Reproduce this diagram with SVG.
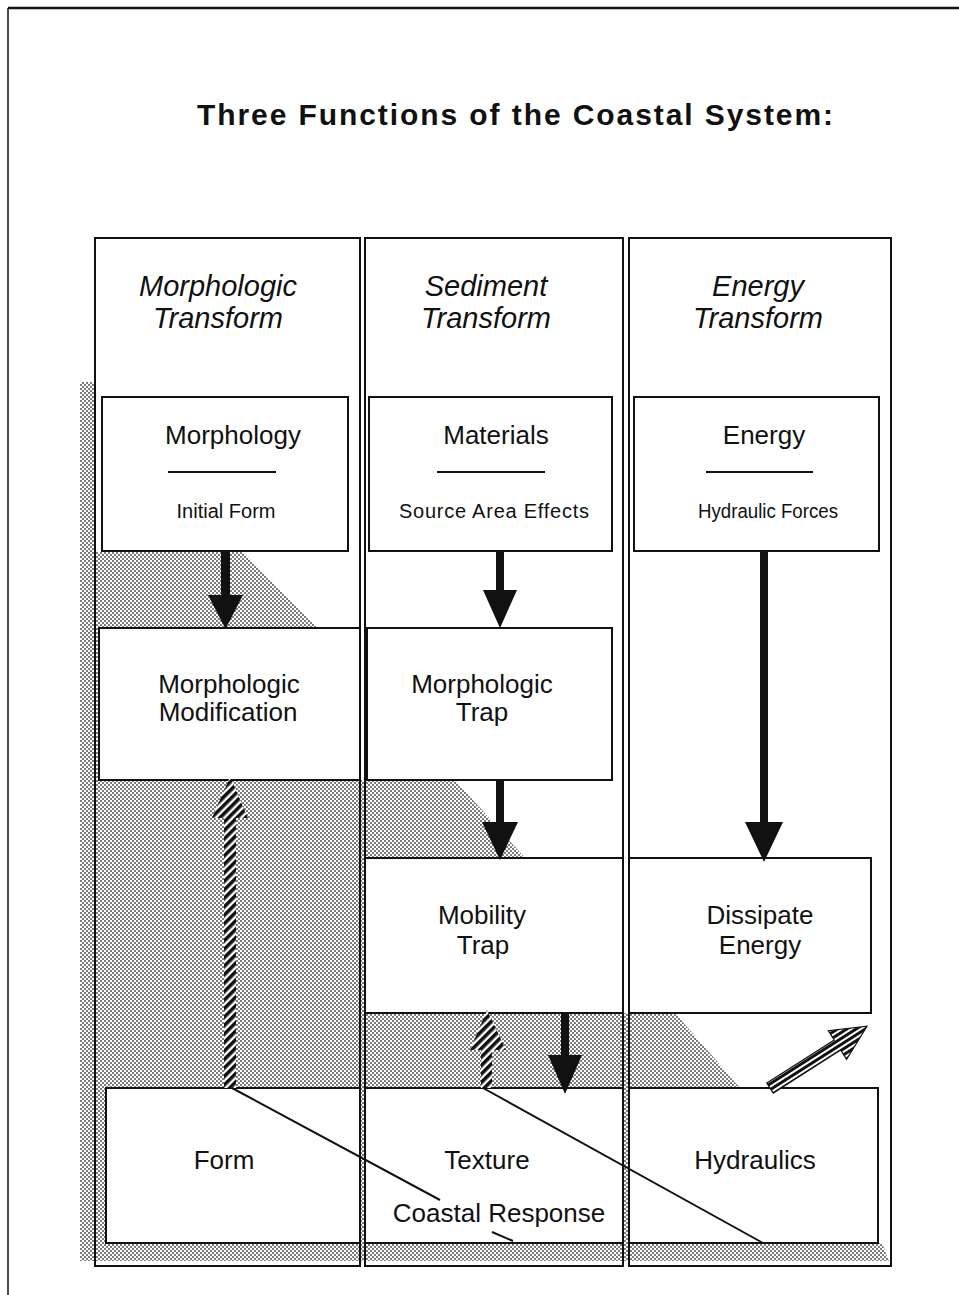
<svg xmlns="http://www.w3.org/2000/svg" width="959" height="1295" viewBox="0 0 959 1295">
  <defs>
    <!-- dotted screen used for the shadow -->
    <pattern id="stipple" width="4" height="4" patternUnits="userSpaceOnUse">
      <rect width="4" height="4" fill="#fff"/>
      <circle cx="1" cy="1" r="0.95" fill="#444"/>
      <circle cx="3" cy="3" r="0.95" fill="#444"/>
    </pattern>
    <!-- diagonal stripes for the feedback arrows -->
    <pattern id="hatch" width="6" height="6" patternUnits="userSpaceOnUse" patternTransform="rotate(45)">
      <rect width="6" height="6" fill="#fff"/>
      <rect width="3.6" height="6" fill="#111"/>
    </pattern>
    <!-- stripes running along the axis of an arrow -->
    <pattern id="hatchAxial" width="6" height="5" patternUnits="userSpaceOnUse">
      <rect width="6" height="5" fill="#fff"/>
      <rect width="6" height="3" fill="#111"/>
    </pattern>
    <style>
      text { font-family: "Liberation Sans", Arial, Helvetica, sans-serif; fill: #111; text-anchor: middle; }
      .title { font-size: 30px; font-weight: bold; }
      .hdr { font-size: 29px; font-style: italic; }
      .lbl { font-size: 26px; }
      .sub { font-size: 20px; }
      .col { fill: none; stroke: #111; stroke-width: 2; }
      .box { fill: #fff; stroke: #111; stroke-width: 2; }
      .rule { stroke: #111; stroke-width: 2; }
      .solid { fill: #111; stroke: none; }
      .line { stroke: #111; stroke-width: 2; fill: none; }
    </style>
  </defs>

  <rect width="959" height="1295" fill="#fff"/>

  <!-- page frame -->
  <g id="frame">
    <line x1="8" y1="8" x2="959" y2="8" stroke="#111" stroke-width="2.5"/>
    <line x1="8" y1="8" x2="8" y2="1295" stroke="#111" stroke-width="1.5"/>
  </g>

  <text id="title" class="title" x="515" y="125" textLength="636" lengthAdjust="spacing">Three Functions of the Coastal System:</text>

  <!-- shadow behind the boxes -->
  <polygon id="shadow" fill="url(#stipple)"
    points="80,382 95,382 95,552 243,552 318,628 360,628 360,780 455,780 525,858 623,858 623,1013 675,1013 740,1088 878,1088 878,1243 882,1243 889,1261 80,1261"/>

  <!-- columns -->
  <g id="columns">
    <g id="col-morphologic">
      <rect class="col" x="95" y="238" width="265" height="1028"/>
      <text class="hdr" x="218" y="296">Morphologic</text>
      <text class="hdr" x="218" y="328">Transform</text>
    </g>
    <g id="col-sediment">
      <rect class="col" x="365" y="238" width="258" height="1028"/>
      <text class="hdr" x="486" y="296">Sediment</text>
      <text class="hdr" x="486" y="328">Transform</text>
    </g>
    <g id="col-energy">
      <rect class="col" x="629" y="238" width="262" height="1028"/>
      <text class="hdr" x="758" y="296">Energy</text>
      <text class="hdr" x="758" y="328">Transform</text>
    </g>
  </g>

  <!-- row 1 -->
  <g id="morphology">
    <rect class="box" x="102" y="397" width="246" height="154"/>
    <text class="lbl" x="233" y="444">Morphology</text>
    <line class="rule" x1="168" y1="472" x2="276" y2="472"/>
    <text class="sub" x="226" y="518">Initial Form</text>
  </g>
  <g id="materials">
    <rect class="box" x="369" y="397" width="243" height="154"/>
    <text class="lbl" x="496" y="444">Materials</text>
    <line class="rule" x1="437" y1="472" x2="545" y2="472"/>
    <text class="sub" x="494" y="518" textLength="190" lengthAdjust="spacing">Source Area Effects</text>
  </g>
  <g id="energy">
    <rect class="box" x="634" y="397" width="245" height="154"/>
    <text class="lbl" x="764" y="444">Energy</text>
    <line class="rule" x1="706" y1="472" x2="813" y2="472"/>
    <text class="sub" x="768" y="518" textLength="140" lengthAdjust="spacingAndGlyphs">Hydraulic Forces</text>
  </g>

  <!-- row 2 -->
  <g id="morphologic-modification">
    <rect class="box" x="99" y="628" width="261" height="152"/>
    <text class="lbl" x="229" y="693">Morphologic</text>
    <text class="lbl" x="228" y="721">Modification</text>
  </g>
  <g id="morphologic-trap">
    <rect class="box" x="367" y="628" width="245" height="152"/>
    <text class="lbl" x="482" y="693">Morphologic</text>
    <text class="lbl" x="482" y="721">Trap</text>
  </g>

  <!-- row 3 -->
  <g id="mobility-trap">
    <rect class="box" x="365" y="858" width="258" height="155"/>
    <text class="lbl" x="482" y="924">Mobility</text>
    <text class="lbl" x="483" y="954">Trap</text>
  </g>
  <g id="dissipate-energy">
    <rect class="box" x="629" y="858" width="242" height="155"/>
    <text class="lbl" x="760" y="924">Dissipate</text>
    <text class="lbl" x="760" y="954">Energy</text>
  </g>

  <!-- row 4 -->
  <g id="form">
    <rect class="box" x="106" y="1088" width="254" height="155"/>
    <text class="lbl" x="224" y="1169">Form</text>
  </g>
  <g id="texture">
    <rect class="box" x="365" y="1088" width="258" height="155"/>
    <text class="lbl" x="487" y="1169">Texture</text>
  </g>
  <g id="hydraulics">
    <rect class="box" x="629" y="1088" width="249" height="155"/>
    <text class="lbl" x="755" y="1169">Hydraulics</text>
  </g>

  <!-- connectors -->
  <g id="connectors">
    <path class="solid" d="M221,552 H230 V595 H243 L225.5,629 L208,595 H221 Z"/>
    <path class="solid" d="M496,552 H504 V590 H517 L500,628 L483,590 H496 Z"/>
    <path class="solid" d="M496,780 H504 V822 H518 L500,860 L482,822 H496 Z"/>
    <path class="solid" d="M760,552 H768 V822 H783 L764,862 L745,822 H760 Z"/>
    <path class="solid" d="M561,1013 H569 V1055 H582 L565,1094 L548,1055 H561 Z"/>

    <path fill="url(#hatch)" d="M224,1088 V818 H212 L230,777 L248,818 H236 V1088 Z"/>
    <path fill="url(#hatch)" d="M481,1088 V1050 H470 L487,1010 L506,1050 H492 V1088 Z"/>
    <g transform="translate(770,1088) rotate(-32.5)">
      <path fill="url(#hatchAxial)" stroke="#111" stroke-width="1.2" d="M0,-6 H80 V-17 L115,0 L80,17 V6 H0 Z"/>
    </g>

    <line class="line" x1="232" y1="1088" x2="440" y2="1200"/>
    <line class="line" x1="483" y1="1088" x2="763" y2="1243"/>
    <line class="line" x1="492" y1="1232" x2="513" y2="1241"/>
  </g>

  <text id="coastal-response" class="lbl" x="499" y="1222">Coastal Response</text>
</svg>
